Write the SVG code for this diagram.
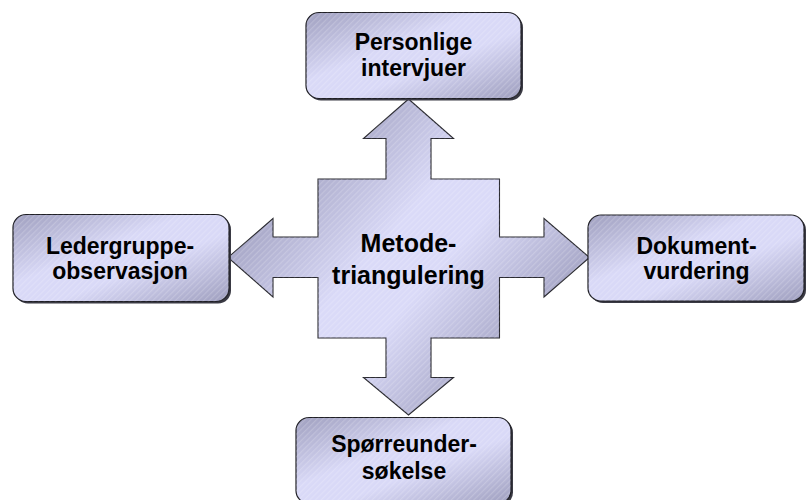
<svg xmlns="http://www.w3.org/2000/svg" width="810" height="500" viewBox="0 0 810 500">
  <defs>
    <linearGradient id="boxFill" x1="0" y1="0" x2="1" y2="1">
      <stop offset="0" stop-color="#9e9ebe"/>
      <stop offset="0.4" stop-color="#d9d9f7"/>
      <stop offset="0.6" stop-color="#d9d9f7"/>
      <stop offset="1" stop-color="#9e9ebe"/>
    </linearGradient>
    <linearGradient id="crossFill" gradientUnits="userSpaceOnUse" x1="300" y1="160" x2="517" y2="356">
      <stop offset="0" stop-color="#a2a2c2"/>
      <stop offset="0.4" stop-color="#dadaf8"/>
      <stop offset="0.6" stop-color="#dadaf8"/>
      <stop offset="1" stop-color="#a2a2c2"/>
    </linearGradient>
    <pattern id="hatch" width="4" height="4" patternUnits="userSpaceOnUse" patternTransform="rotate(-45)">
      <rect width="4" height="1.2" fill="#ffffff" fill-opacity="0.18"/>
    </pattern>
  </defs>
  <style>
    .shadow { fill: #3a3a44; }
    .box { fill: url(#boxFill); stroke: #1e1e24; stroke-width: 1.2; }
    .hatch { fill: url(#hatch); stroke: none; }
    .label { font-family: "Liberation Sans", Arial, sans-serif; font-weight: bold; font-size: 23px; fill: #000; text-anchor: middle; }
    .center { font-size: 25px; }
    .cross { fill: url(#crossFill); stroke: #2a2a30; stroke-width: 1.1; stroke-linejoin: miter; }
  </style>

  <rect width="810" height="500" fill="#ffffff"/>

  <!-- four-way arrow connecting the method nodes -->
  <g id="connectors">
    <path class="cross" d="M408.5,99 L453.5,138.5 L431,138.5 L431,179 L499.5,179 L499.5,237 L544,237 L544,218.5 L589.5,257.5 L544,297 L544,277.5 L499.5,277.5 L499.5,338 L431,338 L431,377.5 L453.5,377.5 L408.5,415 L363.5,377.5 L386,377.5 L386,338 L318,338 L318,277.5 L273,277.5 L273,297 L228,257.5 L273,218.5 L273,237 L318,237 L318,179 L386,179 L386,138.5 L363.5,138.5 Z"/>
    <path class="hatch" d="M408.5,99 L453.5,138.5 L431,138.5 L431,179 L499.5,179 L499.5,237 L544,237 L544,218.5 L589.5,257.5 L544,297 L544,277.5 L499.5,277.5 L499.5,338 L431,338 L431,377.5 L453.5,377.5 L408.5,415 L363.5,377.5 L386,377.5 L386,338 L318,338 L318,277.5 L273,277.5 L273,297 L228,257.5 L273,218.5 L273,237 L318,237 L318,179 L386,179 L386,138.5 L363.5,138.5 Z"/>
  </g>

  <g id="center">
    <text class="label center" x="408.5" y="252">Metode-</text>
    <text class="label center" x="408.5" y="283.5">triangulering</text>
  </g>

  <g id="personlige-intervjuer">
    <rect class="shadow" x="308" y="14.5" width="215" height="86" rx="13"/>
    <rect class="box" x="306" y="12.5" width="215" height="86" rx="13"/>
    <rect class="hatch" x="306" y="12.5" width="215" height="86" rx="13"/>
    <text class="label" x="413.5" y="50">Personlige</text>
    <text class="label" x="413.5" y="75.5">intervjuer</text>
  </g>

  <g id="ledergruppe-observasjon">
    <rect class="shadow" x="15" y="216.5" width="216" height="87" rx="13"/>
    <rect class="box" x="13" y="214.5" width="216" height="87" rx="13"/>
    <rect class="hatch" x="13" y="214.5" width="216" height="87" rx="13"/>
    <text class="label" x="120" y="253.5">Ledergruppe-</text>
    <text class="label" x="120" y="279">observasjon</text>
  </g>

  <g id="dokumentvurdering">
    <rect class="shadow" x="590" y="217" width="216" height="86" rx="13"/>
    <rect class="box" x="588" y="215" width="216" height="86" rx="13"/>
    <rect class="hatch" x="588" y="215" width="216" height="86" rx="13"/>
    <text class="label" x="696.5" y="253.5">Dokument-</text>
    <text class="label" x="696.5" y="279">vurdering</text>
  </g>

  <g id="sporreundersokelse">
    <rect class="shadow" x="298" y="419.5" width="215" height="86" rx="13"/>
    <rect class="box" x="296" y="417.5" width="215" height="86" rx="13"/>
    <rect class="hatch" x="296" y="417.5" width="215" height="86" rx="13"/>
    <text class="label" x="404" y="452">Spørreunder-</text>
    <text class="label" x="404" y="479">søkelse</text>
  </g>
</svg>
